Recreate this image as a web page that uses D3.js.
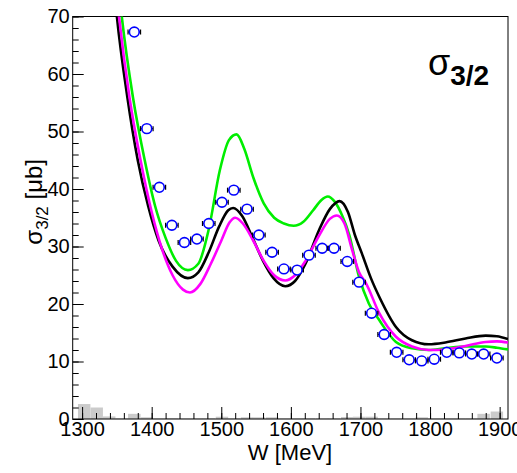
<!DOCTYPE html>
<html lang="en">
<head>
  <meta charset="utf-8">
  <title>sigma 3/2</title>
  <script src="https://d3js.org/d3.v7.min.js" charset="utf-8"></script>
  <style>
  body { margin: 0; background: #fff; }
  text {
      font-family: "Liberation Sans", Arial, sans-serif;
  }
  </style>
</head>
<body>
  <script>
    // data points (W in MeV, sigma in mub)
    var dataW = [1375, 1393, 1411, 1429, 1447, 1465, 1482, 1501, 1518, 1537,
                 1554, 1573, 1590, 1609, 1626, 1645, 1662, 1681, 1698, 1716,
                 1734, 1752, 1770, 1788, 1806, 1824, 1842, 1860, 1877, 1896];
    var dataSigma = [67.3, 50.5, 40.3, 33.7, 30.7, 31.3, 34.0, 37.7, 39.8, 36.5,
                     32.0, 29.0, 26.1, 25.9, 28.5, 29.7, 29.7, 27.4, 23.8, 18.4,
                     14.7, 11.6, 10.3, 10.1, 10.4, 11.6, 11.5, 11.3, 11.3, 10.6];
    var dataWerr = 9;

    // systematic error histogram (grey bars at bottom)
    var systW = [1303, 1321, 1339, 1357, 1375, 1393, 1411, 1429, 1447, 1465,
                 1482, 1501, 1518, 1537, 1554, 1573, 1590, 1609, 1626, 1645,
                 1662, 1681, 1698, 1716, 1734, 1752, 1770, 1788, 1806, 1824,
                 1842, 1860, 1877, 1896];
    var systVal = [2.6, 2.0, 0.45, 0.1, 0.9, 0.3, 0.1, 0.15, 0.1, 0.1,
                   0.1, 0.4, 0.1, 0.3, 0.3, 0.3, 0.1, 0.1, 0.1, 0.1,
                   0.1, 0.35, 0.4, 0.4, 0.1, 0.1, 0.1, 0.3, 0.1, 0.1,
                   0.1, 0.1, 0.9, 1.3];
    var systHalfWidth = 8.95;

    // model curves
    var blackW = [1330, 1350, 1365, 1380, 1395, 1410, 1430, 1452, 1467, 1482, 1497, 1510, 1517, 1530, 1545, 1560, 1575, 1592, 1606, 1621, 1641, 1656, 1670, 1682, 1692, 1702, 1715, 1728, 1751, 1774, 1798, 1822, 1851, 1880, 1896, 1912];
    var blackS = [100, 70, 56, 45, 37, 31, 26.5, 24.5, 25.5, 29, 33.5, 36.3, 36.7, 35.3, 31.5, 27.5, 24.5, 23.1, 24, 27, 33, 36.5, 37.9, 36, 32, 28.8, 24.5, 21, 16, 13.7, 13.0, 13.3, 14.0, 14.5, 14.4, 13.9];

    var magentaW = [1330, 1353, 1368, 1384, 1400, 1415, 1430, 1445, 1455, 1470, 1485, 1500, 1512, 1520, 1531, 1546, 1561, 1576, 1592, 1606, 1621, 1641, 1656, 1666, 1677, 1688, 1698, 1708, 1727, 1751, 1774, 1798, 1822, 1851, 1880, 1896, 1912];
    var magentaS = [100, 70, 56, 45, 36, 29.5, 25, 22.5, 22, 23.5, 27, 31, 34.2, 35, 34, 31, 27.5, 25, 24.1, 25, 27.5, 32, 34.8, 35.4, 34, 29.4, 25.5, 23.6, 18.4, 14.3, 12.6, 12.0, 12.1, 12.7, 13.4, 13.5, 13.3];

    var greenW = [1335, 1357, 1373, 1390, 1405, 1420, 1435, 1452, 1467, 1482, 1498, 1511, 1522, 1533, 1546, 1561, 1576, 1590, 1604, 1618, 1632, 1644, 1653, 1663, 1674, 1684, 1698, 1712, 1727, 1751, 1774, 1798, 1822, 1851, 1880, 1896, 1912];
    var greenS = [100, 70, 56, 45, 37, 31.5, 27.5, 25.9, 27, 33, 43.3, 48.5, 49.5, 47, 42, 37.5, 35, 34.0, 33.6, 34.3, 36.3, 38.1, 38.7, 37.8, 35.3, 32.0, 24.7, 20.1, 17.2, 13.4, 12.3, 12.0, 12.3, 12.6, 12.6, 12.4, 12.1];

    var xTicks = [1300, 1400, 1500, 1600, 1700, 1800, 1900];
    var yTicks = [0, 10, 20, 30, 40, 50, 60, 70];

    var w = 517;
    var h = 473;
    var frameLeft = 72.7, frameRight = 508, frameTop = 16.5, frameBottom = 419;

    var x = d3.scaleLinear().domain([1286.5, 1912]).range([frameLeft, frameRight]);
    var y = d3.scaleLinear().domain([0, 70]).range([frameBottom, frameTop]);

    var svg = d3.select("body")
      .append("svg")
      .attr("width", w)
      .attr("height", h);

    svg.append("defs").append("clipPath")
        .attr("id", "frame")
      .append("rect")
        .attr("x", frameLeft)
        .attr("y", frameTop)
        .attr("width", frameRight - frameLeft)
        .attr("height", frameBottom - frameTop);

    // grey systematic bars
    svg.append("g")
      .selectAll("rect")
      .data(systW)
      .enter()
      .append("rect")
        .attr("x", function(d) { return x(d - systHalfWidth); })
        .attr("width", function(d) { return x(d + systHalfWidth) - x(d - systHalfWidth); })
        .attr("y", function(d, i) { return y(systVal[i]); })
        .attr("height", function(d, i) { return y(0) - y(systVal[i]); })
        .attr("fill", "#cbcbcb");

    // minor ticks
    var minorX = d3.range(1300, 1901, 20);
    var minorY = d3.range(0, 71, 2);

    svg.append("g")
        .attr("transform", "translate(0," + frameBottom + ")")
        .call(d3.axisBottom(x).tickValues(minorX).tickSize(-6).tickFormat(""))
        .call(function(g) { g.select(".domain").remove(); });

    svg.append("g")
        .attr("transform", "translate(" + frameLeft + ",0)")
        .call(d3.axisLeft(y).tickValues(minorY).tickSize(-6).tickFormat(""))
        .call(function(g) { g.select(".domain").remove(); });

    // major ticks + labels
    var xAxis = svg.append("g")
        .attr("transform", "translate(0," + frameBottom + ")")
        .call(d3.axisBottom(x).tickValues(xTicks).tickSize(-12).tickFormat(d3.format("d")));
    xAxis.select(".domain").remove();
    xAxis.selectAll("text")
        .attr("y", 3)
        .attr("font-size", 20)
        .attr("fill", "#000");

    var yAxis = svg.append("g")
        .attr("transform", "translate(" + frameLeft + ",0)")
        .call(d3.axisLeft(y).tickValues(yTicks).tickSize(-11).tickFormat(d3.format("d")));
    yAxis.select(".domain").remove();
    yAxis.selectAll("text")
        .attr("x", -3)
        .attr("font-size", 20)
        .attr("fill", "#000");

    // frame
    svg.append("rect")
        .attr("x", frameLeft)
        .attr("y", frameTop)
        .attr("width", frameRight - frameLeft)
        .attr("height", frameBottom - frameTop)
        .attr("fill", "none")
        .attr("stroke", "#000")
        .attr("stroke-width", 1);

    // curves
    var line = d3.line()
        .x(function(d) { return x(d[0]); })
        .y(function(d) { return y(d[1]); })
        .curve(d3.curveMonotoneX);

    var curves = [
      { w: greenW, s: greenS, color: "#00ee00" },
      { w: blackW, s: blackS, color: "#000000" },
      { w: magentaW, s: magentaS, color: "#ff00ff" }
    ];

    svg.append("g")
        .attr("clip-path", "url(#frame)")
      .selectAll("path")
      .data(curves)
      .enter()
      .append("path")
        .attr("d", function(c) { return line(d3.zip(c.w, c.s)); })
        .attr("fill", "none")
        .attr("stroke", function(c) { return c.color; })
        .attr("stroke-width", 2.6);

    // data points with horizontal error bars
    var pts = svg.append("g")
      .selectAll("g")
      .data(dataW)
      .enter()
      .append("g");

    pts.append("line")
        .attr("x1", function(d) { return x(d - dataWerr); })
        .attr("x2", function(d) { return x(d + dataWerr); })
        .attr("y1", function(d, i) { return y(dataSigma[i]); })
        .attr("y2", function(d, i) { return y(dataSigma[i]); })
        .attr("stroke", "#000")
        .attr("stroke-width", 1.2);

    [-1, 1].forEach(function(side) {
      pts.append("line")
          .attr("x1", function(d) { return x(d + side * dataWerr); })
          .attr("x2", function(d) { return x(d + side * dataWerr); })
          .attr("y1", function(d, i) { return y(dataSigma[i]) - 2.5; })
          .attr("y2", function(d, i) { return y(dataSigma[i]) + 2.5; })
          .attr("stroke", "#000")
          .attr("stroke-width", 1.2);
    });

    pts.append("circle")
        .attr("cx", function(d) { return x(d); })
        .attr("cy", function(d, i) { return y(dataSigma[i]); })
        .attr("r", 4.9)
        .attr("fill", "#fff")
        .attr("stroke", "#0000ff")
        .attr("stroke-width", 1.6);

    // axis titles
    svg.append("text")
        .attr("x", 290)
        .attr("y", 460)
        .attr("text-anchor", "middle")
        .attr("font-size", 22)
        .text("W [MeV]");

    var yTitle = svg.append("text")
        .attr("text-anchor", "end")
        .attr("font-size", 24)
        .attr("transform", "translate(42,159) rotate(-90)");
    yTitle.append("tspan").text("σ");
    yTitle.append("tspan").attr("font-size", 17).attr("dy", 6).text("3/2");
    yTitle.append("tspan").attr("dy", -6).text(" [μb]");

    // label in the corner
    var label = svg.append("text")
        .attr("x", 428)
        .attr("y", 75);
    label.append("tspan").attr("font-size", 36).text("σ");
    label.append("tspan").attr("font-size", 28).attr("font-weight", "bold").attr("dy", 10).text("3/2");
  </script>
</body>
</html>
